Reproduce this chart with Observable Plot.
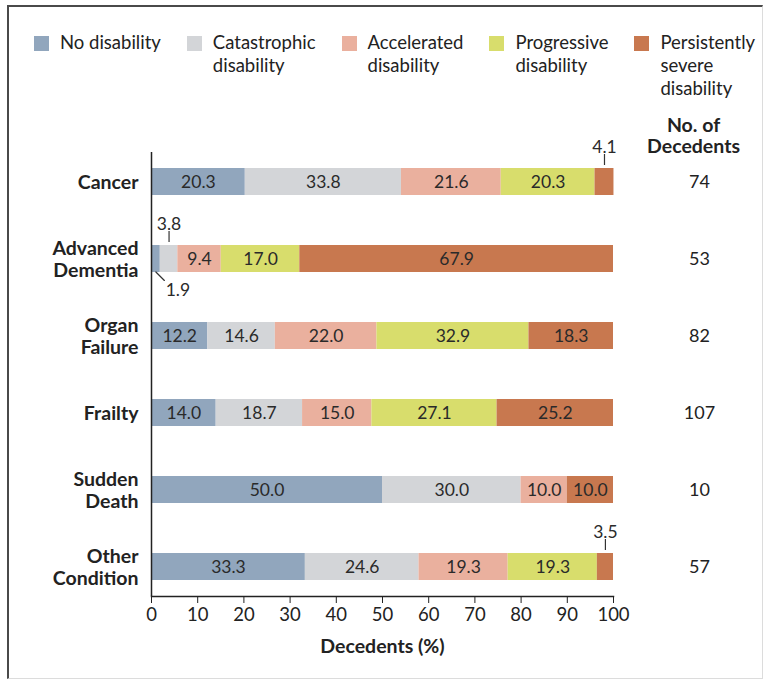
<!DOCTYPE html>
<html><head><meta charset="utf-8">
<script src="https://cdn.jsdelivr.net/npm/d3@7"></script>
<script src="https://cdn.jsdelivr.net/npm/@observablehq/plot@0.6"></script>
<style>
body{margin:0;background:#fff;font-family:Lato,"Open Sans",sans-serif;}
#wrap{position:relative;width:774px;height:684px;overflow:hidden;background:#fff;}
#frame{position:absolute;left:7px;top:5px;width:756px;height:674px;border-left:2px solid #4a4a4a;border-top:2px solid #4a4a4a;border-right:1px solid #dcdcdc;border-bottom:1px solid #dcdcdc;box-sizing:border-box;}
#legend{position:absolute;left:34px;top:31px;display:flex;gap:26px;font-size:18.5px;line-height:23px;color:#222;}
.item{display:flex;align-items:flex-start;}
.sw{width:15px;height:15px;margin-top:5px;margin-right:11px;flex:none;}
.lbl{white-space:pre;}
#chart{position:absolute;left:0;top:100px;}
</style></head><body>
<div id="wrap"><div id="frame"></div><div id="legend"></div><div id="chart"></div></div>
<script>
const categories = ["Cancer","Advanced Dementia","Organ Failure","Frailty","Sudden Death","Other Condition"];
const categoryLabels = ["Cancer","Advanced\nDementia","Organ\nFailure","Frailty","Sudden\nDeath","Other\nCondition"];
const statuses = ["No disability","Catastrophic disability","Accelerated disability","Progressive disability","Persistently severe disability"];
const statusLabels = ["No disability","Catastrophic\ndisability","Accelerated\ndisability","Progressive\ndisability","Persistently\nsevere\ndisability"];
const colors = ["#91a6bd","#d3d5d8","#eab09e","#d8dd6c","#c8784f"];

const noDisability = [20.3, 1.9, 12.2, 14.0, 50.0, 33.3];
const catastrophic = [33.8, 3.8, 14.6, 18.7, 30.0, 24.6];
const accelerated  = [21.6, 9.4, 22.0, 15.0, 10.0, 19.3];
const progressive  = [20.3, 17.0, 32.9, 27.1, 0.0, 19.3];
const persistent   = [4.1, 67.9, 18.3, 25.2, 10.0, 3.5];
const decedents    = [74, 53, 82, 107, 10, 57];
const xTicks = [0,10,20,30,40,50,60,70,80,90,100];

// small segments labelled outside the bar
const outsideAbove = [["Cancer","Persistently severe disability"],["Advanced Dementia","Catastrophic disability"],["Other Condition","Persistently severe disability"]];
const outsideBelow = [["Advanced Dementia","No disability"]];

const series = [noDisability, catastrophic, accelerated, progressive, persistent];
const rows = [];
categories.forEach((c, i) => {
  let acc = 0;
  series.forEach((vals, j) => {
    const v = vals[i];
    rows.push({cat: c, status: statuses[j], value: v, x1: acc, x2: acc + v, mid: acc + v / 2});
    acc += v;
  });
});
const isIn = (list, d) => list.some(([c, s]) => c === d.cat && s === d.status);
const drawn = rows.filter(d => d.value > 0);
const above = rows.filter(d => isIn(outsideAbove, d));
const below = rows.filter(d => isIn(outsideBelow, d));
const inside = drawn.filter(d => !isIn(outsideAbove, d) && !isIn(outsideBelow, d));

// legend
const legend = document.getElementById("legend");
statuses.forEach((s, j) => {
  const it = document.createElement("div"); it.className = "item";
  const sw = document.createElement("div"); sw.className = "sw"; sw.style.background = colors[j];
  const lb = document.createElement("div"); lb.className = "lbl"; lb.textContent = statusLabels[j];
  it.appendChild(sw); it.appendChild(lb); legend.appendChild(it);
});

const lineShape = {draw(ctx, l) { ctx.moveTo(0, 0); ctx.lineTo(0, -l); }};
const valFont = 17.5;

const chart = Plot.plot({
  width: 774, height: 584,
  marginLeft: 151, marginRight: 161, marginTop: 52, marginBottom: 88,
  style: {fontFamily: "Lato, 'Open Sans', sans-serif", fontSize: "16px", color: "#222", background: "transparent", overflow: "visible"},
  x: {domain: [0, 100]},
  y: {domain: categories, range: [42.7, 505.6], paddingInner: 0.65, paddingOuter: 0.325},
  color: {domain: statuses, range: colors},
  marks: [
    Plot.barX(drawn, {x1: "x1", x2: "x2", y: "cat", fill: "status"}),
    Plot.text(inside, {x: "mid", y: "cat", text: d => d.value.toFixed(1), fontSize: valFont, fill: "#2a2a2a"}),
    Plot.tickX(above, {x: "mid", y: "cat", dy: -22, insetTop: 8, insetBottom: 8, stroke: "#333", strokeWidth: 1.2}),
    Plot.text(above, {x: "mid", y: "cat", dy: -35, text: d => d.value.toFixed(1), fontSize: valFont, fill: "#2a2a2a"}),
    Plot.vector(below, {x: "mid", y: "cat", dy: 13, length: 12, rotate: 135, anchor: "start", shape: lineShape, stroke: "#333", strokeWidth: 1.2}),
    Plot.text(below, {x: "mid", y: "cat", dx: 22, dy: 31, text: d => d.value.toFixed(1), fontSize: valFont, fill: "#2a2a2a"}),
    Plot.ruleX([0], {stroke: "#222", strokeWidth: 1.5}),
    Plot.frame({anchor: "bottom", stroke: "#222", strokeWidth: 1.5}),
    Plot.axisX({ticks: xTicks, tickSize: 7, tickPadding: 4, fontSize: 18.5, label: null, stroke: "#222"}),
    Plot.axisY({tickSize: 0, tickPadding: 13, label: null, fontSize: 19.5, fontWeight: "bold", lineHeight: 1.1,
      tickFormat: d => categoryLabels[categories.indexOf(d)]}),
    Plot.text(categories, {y: d => d, text: (d, i) => String(decedents[i]), frameAnchor: "right", textAnchor: "middle", dx: 86, fontSize: 18, fill: "#222"}),
    Plot.text(["No. of\nDecedents"], {frameAnchor: "top-right", textAnchor: "middle", dx: 80, dy: -17, lineAnchor: "middle", lineHeight: 1.12, fontSize: 19.5, fontWeight: "bold", fill: "#222"}),
    Plot.text(["Decedents (%)"], {frameAnchor: "bottom", dy: 56, fontSize: 19.5, fontWeight: "bold", fill: "#222"})
  ]
});
document.getElementById("chart").appendChild(chart);
</script>
</body></html>
